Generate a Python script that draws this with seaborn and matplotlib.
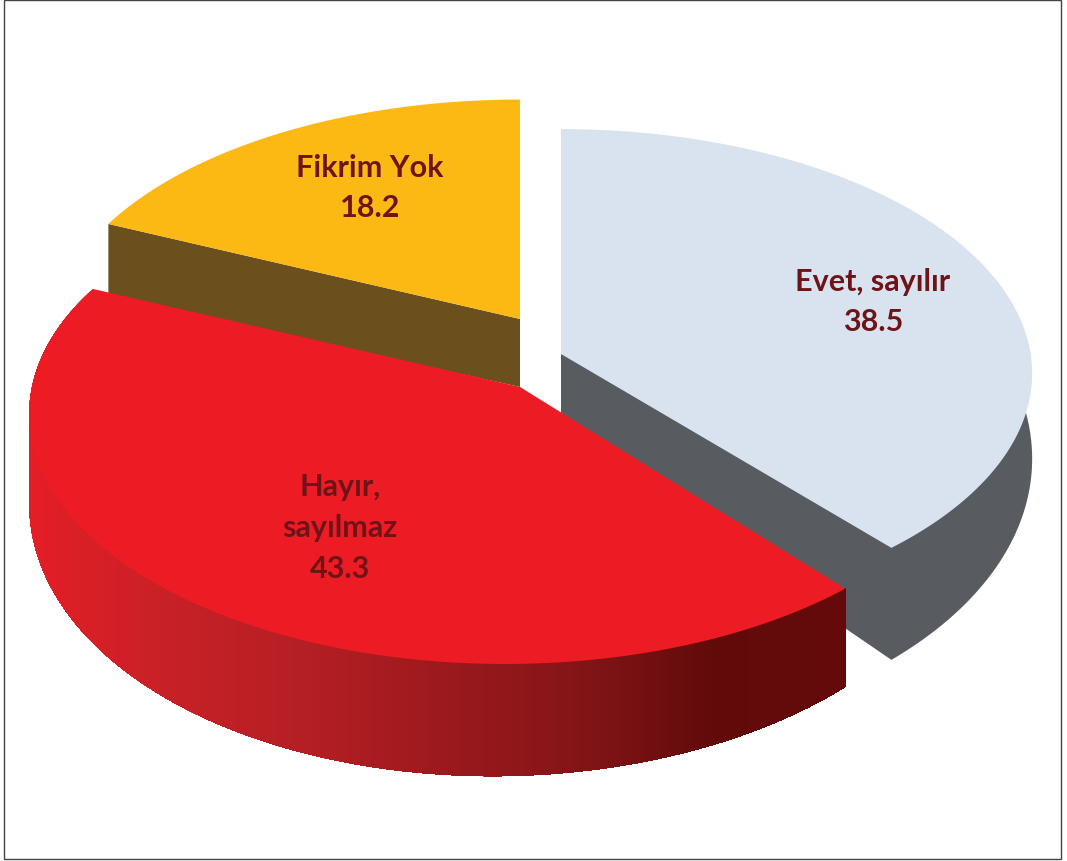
"""
3B dilimli pasta grafiği: Evet / Hayır / Fikrim Yok
"""
import numpy as np
import matplotlib.pyplot as plt
from matplotlib.patches import Polygon, Rectangle
import seaborn as sns

sns.set_theme(style="white")
plt.rcParams["font.family"] = ["Lato", "DejaVu Sans"]

# veri
labels = ["Evet, sayılır", "Hayır,\nsayılmaz", "Fikrim Yok"]
values = [38.5, 43.3, 18.2]

# renkler
top_colors = ["#D9E3EF", "#ED1C24", "#FDB913"]
side_colors = ["#585C61", "#640A0A", "#6B4F1D"]
red_ramp = ["#E41E26", "#C82027", "#B41F23", "#9C191D", "#841517", "#620A0A", "#640A0A"]
text_color = "#6E1418"

# dilimlerin ekrandaki konumu (piksel)
apex_x = [561, 520, 520]
apex_y = [355, 388, 320]
arc_x = [561, 505, 520]
scale_a = [0.995, 1.002, 0.99]
scale_b = [1.025, 1.043, 1.0]
persp = [0.08, 0.1075, 0.08]
depth_base = [82, 78, 88]
depth_v = [40, 34, 38]
depth_u = [0, 8, 0]
text_pos = [(873, 302), (340, 528), (370, 188)]

RX, RY = 472, 237


def project(theta, i):
    """Açıyı (saat yönünde, tepeden) perspektifli elipse çevir"""
    u, v = np.sin(theta), np.cos(theta)
    w = 1 + persp[i] * v
    return arc_x[i] + scale_a[i] * RX * u / w, apex_y[i] - scale_b[i] * RY * v / w


def depth(theta, i):
    # önde kalın, arkada ince
    return depth_base[i] - depth_v[i] * np.cos(theta) - depth_u[i] * np.sin(theta)


fig, ax = plt.subplots(figsize=(10.67, 8.62), dpi=100)
fig.subplots_adjust(0, 0, 1, 1)
ax.set_xlim(0, 1067)
ax.set_ylim(862, 0)
ax.axis("off")

edges = np.cumsum([0] + values) / sum(values) * 2 * np.pi

for i in [2, 0, 1]:
    t = np.linspace(edges[i], edges[i + 1], 240)
    x, y = project(t, i)
    d = depth(t, i)
    outer = np.column_stack([x, y])
    lower = np.column_stack([x, y + d])
    if i == 0:
        # dış yüzey ve radyal duvar tek parça, üst kısmı üst yüzeyin altında kalır
        first = np.searchsorted(t, np.radians(60))
        ax.add_patch(Polygon(np.vstack([[(apex_x[i], apex_y[i]), outer[first]], lower[first:],
                                        [(apex_x[i], apex_y[i] + 80)]]),
                             fc=side_colors[i], ec="none"))
    elif i == 2:
        # arka dilimde yalnızca radyal duvar görünür
        ax.add_patch(Polygon([(apex_x[i], apex_y[i]), (x[0], y[0]),
                              (x[0], y[0] + d[0]), (apex_x[i], apex_y[i] + 68)],
                             fc=side_colors[i], ec="none"))
    else:
        # dış yüzey: soldan sağa gradyan, her parça öncekinin üstüne biner
        ramp = sns.blend_palette(red_ramp, 256)
        scale_x = (x - x.min()) / (x.max() - x.min())
        for j in range(len(t) - 1, 0, -1):
            color = ramp[int(scale_x[j] * 255)]
            ax.add_patch(Polygon(np.vstack([outer[: j + 1], lower[j::-1]]), fc=color, ec="none"))
    # üst yüzey
    ax.add_patch(Polygon(np.vstack([[apex_x[i], apex_y[i]], outer]), fc=top_colors[i], ec="none"))
    ax.text(*text_pos[i], f"{labels[i]}\n{values[i]}", color=text_color, fontsize=22,
            fontweight="bold", ha="center", va="center", linespacing=1.56)

ax.add_patch(Rectangle((4, 1), 1057, 859, fc="none", ec="#444444", lw=1.0))

fig.savefig("out.png", dpi=100)
plt.close(fig)
